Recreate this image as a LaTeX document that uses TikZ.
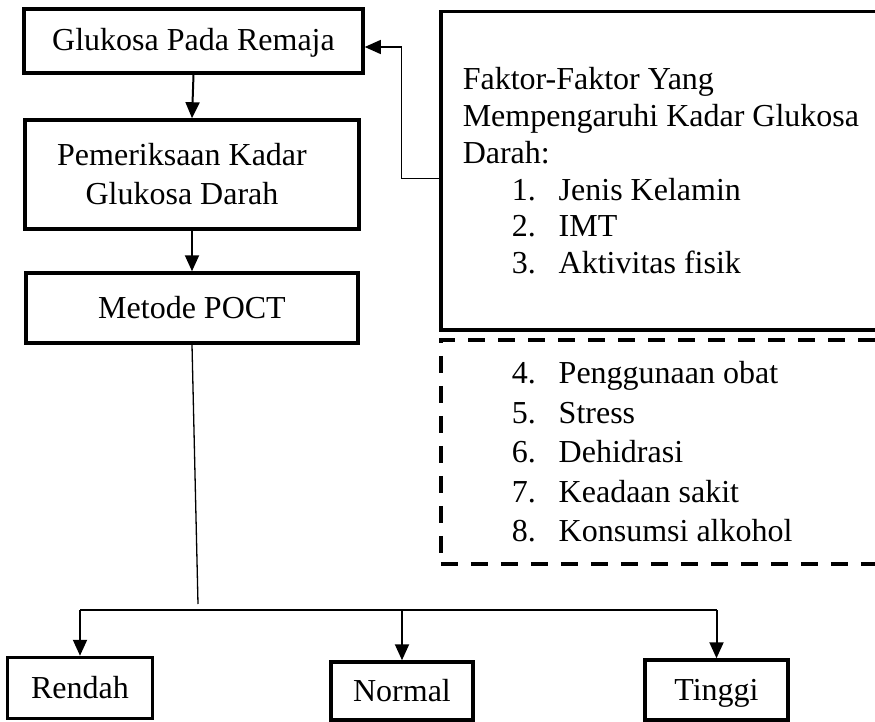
\documentclass[tikz,border=0pt]{standalone}
\usepackage{fontspec}
\setmainfont{Liberation Serif}
\usetikzlibrary{arrows.meta,calc}

\tikzset{
  box/.style={draw, line width=3.5pt, inner sep=0pt, align=center},
  onerow/.style={text height=24pt, text depth=4pt},
  arr/.style={line width=2pt, -{Triangle[length=16pt,width=14pt]}},
  thinarr/.style={line width=1.3pt, -{Triangle[length=16pt,width=14pt]}},
  thinline/.style={line width=1.3pt},
}
\newcommand{\itm}[2]{\makebox[49pt][l]{}\makebox[47pt][l]{#1}#2}

\begin{document}
\begin{tikzpicture}[x=1pt, y=-1pt, font=\fontsize{32}{38}\selectfont]
    \useasboundingbox (0,0) rectangle (875,722);

    % Left column
    \node[box, onerow, minimum width=339, minimum height=64] (gpr) at (193.5,41) {Glukosa Pada Remaja};
    \node[box, minimum width=334, minimum height=109, font=\fontsize{32}{39}\selectfont] (pkgd) at (192,174.5)
        {\hspace*{-20pt}Pemeriksaan Kadar\\\hspace*{-20pt}Glukosa Darah};
    \node[box, onerow, minimum width=332, minimum height=70] (mpoct) at (192,308) {Metode POCT};
    \draw[arr] (gpr.south) -- (pkgd.north);
    \draw[arr] (pkgd.south) -- (mpoct.north);

    % Factors, solid part
    \node[box, anchor=north west, minimum width=540, minimum height=318, text width=496,
          inner xsep=22pt, align=flush left, font=\fontsize{32}{36.8}\selectfont] (faktor) at (439,10)
        {Faktor-Faktor Yang\\
         Mempengaruhi Kadar Glukosa\\
         Darah:\\
         \itm{1.}{Jenis Kelamin}\\
         \itm{2.}{IMT}\\
         \itm{3.}{Aktivitas fisik}};

    % Factors, dashed part
    \node[box, dash pattern=on 17pt off 13pt, anchor=north west, minimum width=540, minimum height=224,
          text width=496, inner xsep=22pt, align=flush left, font=\fontsize{32}{39.5}\selectfont] (lain) at (439,338)
        {\itm{4.}{Penggunaan obat}\\
         \itm{5.}{Stress}\\
         \itm{6.}{Dehidrasi}\\
         \itm{7.}{Keadaan sakit}\\
         \itm{8.}{Konsumsi alkohol}};

    \coordinate (fk) at ($(faktor.west)+(0,8)$);
    \draw[thinarr] (fk) -| ($(gpr.east)+(37,6)$) -- ($(gpr.east)+(0,6)$);

    % Results
    \node[box, onerow, minimum width=145, minimum height=61] (rendah) at (80,688) {Rendah};
    \node[box, onerow, minimum width=142, minimum height=58] (normal) at (402,691) {Normal};
    \node[box, onerow, minimum width=143, minimum height=60] (tinggi) at (716.5,690) {Tinggi};

    \coordinate (split) at (198,604);
    \coordinate (bus) at (0,610);
    \draw[thinline] (mpoct.south) -- (split);
    \draw[thinline] (rendah.north |- bus) -- (tinggi.north |- bus);
    \foreach \n in {rendah, normal, tinggi} {
        \draw[arr] (\n.north |- bus) -- (\n.north);
    }
\end{tikzpicture}
\end{document}
